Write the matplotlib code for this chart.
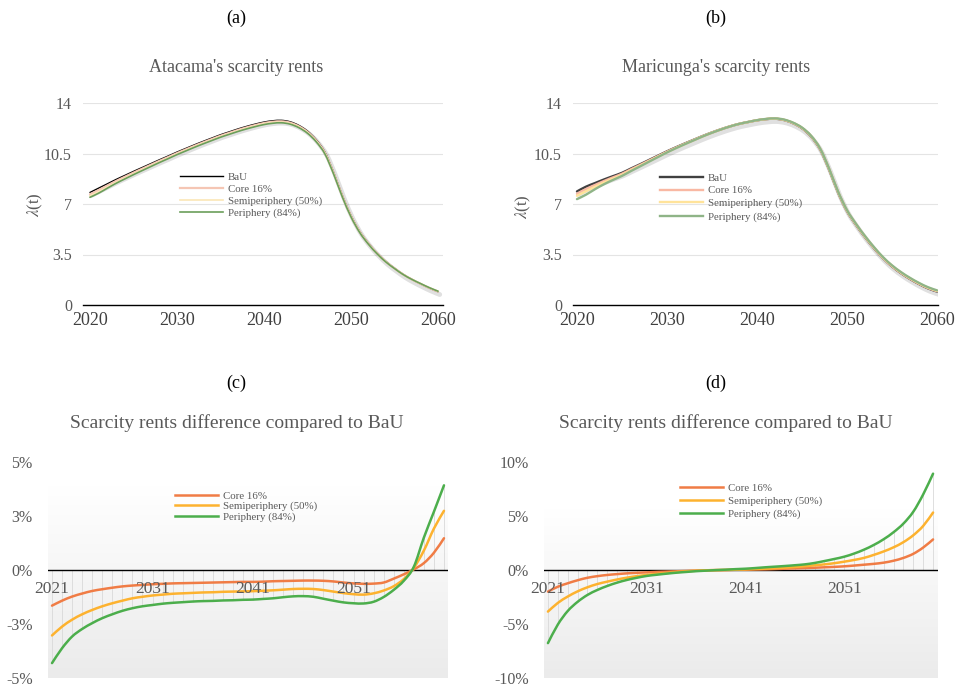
import numpy as np
import matplotlib.pyplot as plt
import matplotlib.patheffects as pe
from matplotlib.lines import Line2D
from matplotlib.path import Path
from matplotlib.patches import PathPatch
from matplotlib.colors import LinearSegmentedColormap

plt.rcParams['font.family'] = ['Liberation Serif', 'DejaVu Serif']
plt.rcParams['mathtext.fontset'] = 'stix'

# --- datos ---
years_top = list(range(2020, 2061))
years_diff = list(range(2021, 2061))

bau_atacama = [7.80, 8.10, 8.40, 8.70, 8.98, 9.26, 9.53, 9.80, 10.07, 10.33,
               10.60, 10.85, 11.10, 11.34, 11.57, 11.80, 12.00, 12.20, 12.38, 12.54,
               12.68, 12.77, 12.80, 12.70, 12.45, 12.05, 11.45, 10.60, 9.20, 7.60,
               6.20, 5.10, 4.28, 3.60, 3.02, 2.55, 2.12, 1.77, 1.46, 1.17, 0.92]
bau_maricunga = [7.87, 8.20, 8.45, 8.70, 8.93, 9.16, 9.46, 9.75, 10.05, 10.35,
                 10.65, 10.93, 11.20, 11.46, 11.72, 11.96, 12.18, 12.38, 12.55, 12.68,
                 12.80, 12.88, 12.91, 12.82, 12.60, 12.25, 11.68, 10.80, 9.40, 7.80,
                 6.50, 5.55, 4.70, 3.93, 3.24, 2.67, 2.20, 1.80, 1.45, 1.15, 0.93]

# diferencias vs BaU (%), 2021-2060
atacama_core = [-1.65, -1.42, -1.23, -1.09, -0.97, -0.89, -0.82, -0.76, -0.72, -0.69,
                -0.66, -0.64, -0.62, -0.61, -0.60, -0.59, -0.58, -0.57, -0.56, -0.55,
                -0.55, -0.54, -0.52, -0.51, -0.50, -0.49, -0.49, -0.50, -0.53, -0.58,
                -0.62, -0.64, -0.63, -0.58, -0.40, -0.20, 0.03, 0.32, 0.80, 1.47]
atacama_semi = [-3.03, -2.62, -2.30, -2.05, -1.85, -1.68, -1.54, -1.42, -1.31, -1.24,
                -1.18, -1.14, -1.10, -1.08, -1.06, -1.04, -1.03, -1.01, -1.00, -0.99,
                -0.98, -0.96, -0.94, -0.91, -0.88, -0.87, -0.88, -0.93, -1.00, -1.07,
                -1.12, -1.14, -1.08, -0.95, -0.75, -0.42, 0.10, 0.90, 1.92, 2.74]
atacama_periph = [-4.31, -3.62, -3.08, -2.73, -2.46, -2.23, -2.05, -1.89, -1.77, -1.68,
                  -1.62, -1.56, -1.52, -1.49, -1.46, -1.44, -1.43, -1.41, -1.40, -1.38,
                  -1.37, -1.34, -1.31, -1.26, -1.22, -1.21, -1.24, -1.33, -1.42, -1.50,
                  -1.54, -1.55, -1.47, -1.25, -0.92, -0.50, 0.15, 1.50, 2.70, 3.92]

maricunga_core = [-2.00, -1.55, -1.23, -0.95, -0.72, -0.57, -0.46, -0.38, -0.31, -0.26,
                  -0.22, -0.18, -0.15, -0.12, -0.09, -0.06, -0.03, -0.01, 0.00, 0.02,
                  0.03, 0.05, 0.06, 0.09, 0.12, 0.15, 0.18, 0.21, 0.25, 0.29,
                  0.34, 0.41, 0.49, 0.57, 0.68, 0.86, 1.12, 1.50, 2.08, 2.83]
maricunga_semi = [-3.85, -3.05, -2.46, -1.98, -1.60, -1.30, -1.08, -0.88, -0.71, -0.57,
                  -0.46, -0.36, -0.28, -0.20, -0.12, -0.07, -0.03, -0.01, 0.00, 0.03,
                  0.06, 0.09, 0.12, 0.17, 0.22, 0.28, 0.35, 0.43, 0.52, 0.63,
                  0.77, 0.93, 1.12, 1.40, 1.72, 2.10, 2.58, 3.22, 4.08, 5.32]
maricunga_periph = [-6.77, -5.05, -3.80, -2.95, -2.31, -1.85, -1.48, -1.17, -0.92, -0.72,
                    -0.55, -0.44, -0.34, -0.25, -0.18, -0.11, -0.06, -0.01, 0.03, 0.08,
                    0.12, 0.18, 0.25, 0.31, 0.37, 0.44, 0.52, 0.65, 0.83, 1.02,
                    1.23, 1.52, 1.88, 2.32, 2.85, 3.50, 4.30, 5.40, 7.00, 8.92]

labels_top = ['BaU', 'Core 16%', 'Semiperiphery (50%)', 'Periphery (84%)']
labels_diff = ['Core 16%', 'Semiperiphery (50%)', 'Periphery (84%)']

W, H = 956, 687
fig = plt.figure(figsize=(W / 100, H / 100), dpi=100)


def fx(x):
    return x / W


def fy(y):
    return 1 - y / H


def rect(x0, y0, x1, y1):
    return [fx(x0), fy(y1), (x1 - x0) / W, (y1 - y0) / H]


def smooth_line(ax, x, y, color, lw, zorder, effects=None):
    # linea suavizada tipo Excel (Catmull-Rom pasando por los puntos)
    p = np.column_stack([np.asarray(x, float), np.asarray(y, float)])
    ext = np.vstack([p[0], p, p[-1]])
    verts = [p[0]]
    codes = [Path.MOVETO]
    for i in range(len(p) - 1):
        p0, p1, p2, p3 = ext[i], ext[i + 1], ext[i + 2], ext[i + 3]
        verts += [p1 + (p2 - p0) / 6, p2 - (p3 - p1) / 6, p2]
        codes += [Path.CURVE4] * 3
    patch = PathPatch(Path(verts, codes), fill=False, edgecolor=color, lw=lw,
                      zorder=zorder, capstyle='round', joinstyle='round')
    if effects:
        patch.set_path_effects(effects)
    ax.add_patch(patch)


def top_panel(r, bau, diffs, xlim, colors, lws, leg_pos, leg_sp):
    ax = fig.add_axes(r)
    bau = np.array(bau)
    series = [bau]
    for d in diffs:
        d = np.array([d[0]] + list(d)) / 100.0
        series.append(bau * (1 + d))
    for i, (s, c, lw) in enumerate(zip(series, colors, lws)):
        effects = None
        if i == 0:
            effects = [pe.SimpleLineShadow(offset=(1.2, -2.0), shadow_color='black',
                                           alpha=0.12, linewidth=3.5), pe.Normal()]
        smooth_line(ax, years_top, s, c, lw, 3 + i, effects)
    ax.set_xlim(*xlim)
    ax.set_ylim(0, 14)
    ax.set_yticks([0, 3.5, 7, 10.5, 14])
    ax.set_yticklabels(['0', '3.5', '7', '10.5', '14'])
    ax.set_xticks([2020, 2030, 2040, 2050, 2060])
    ax.grid(axis='y', color='#e4e4e4', lw=0.8)
    ax.set_axisbelow(True)
    for s in ['top', 'right', 'left']:
        ax.spines[s].set_visible(False)
    ax.spines['bottom'].set_color('black')
    ax.spines['bottom'].set_linewidth(1.0)
    ax.tick_params(axis='y', length=0, pad=8, labelsize=11.5, labelcolor='#595959')
    ax.tick_params(axis='x', length=0, pad=5, labelsize=13, labelcolor='#404040')
    handles = [Line2D([], [], color=c, lw=lw) for c, lw in zip(colors, lws)]
    ax.legend(handles, labels_top, loc='upper left',
              bbox_to_anchor=(fx(leg_pos[0]), fy(leg_pos[1])),
              bbox_transform=fig.transFigure, frameon=False, fontsize=7.8,
              labelcolor='#595959', handlelength=4.0, handletextpad=0.4,
              labelspacing=leg_sp, borderpad=0, borderaxespad=0)
    return ax


def bottom_panel(r, diffs, ylim, yticks, yticklabels, xlim, grad_top, leg_pos, leg_sp):
    ax = fig.add_axes(r)
    grad = np.linspace(0, 1, 256).reshape(-1, 1)
    cmap = LinearSegmentedColormap.from_list('bg', ['#ffffff', '#ebebeb'])
    ax.imshow(grad, aspect='auto', cmap=cmap, extent=[0, 1, 0, grad_top],
              transform=ax.transAxes, zorder=0, origin='upper')
    arr = np.array(diffs)
    idx = np.abs(arr).argmax(axis=0)
    ext = arr[idx, np.arange(arr.shape[1])]
    ax.vlines(years_diff, 0, ext, color='#d9d9d9', lw=0.6, zorder=1)
    ax.axhline(0, color='black', lw=1.0, zorder=2)
    colors = ['#f07c45', '#fdb22f', '#4cae4c']
    for d, c in zip(diffs, colors):
        smooth_line(ax, years_diff, d, c, 1.8, 3)
    ax.set_xlim(*xlim)
    ax.set_ylim(*ylim)
    ax.set_yticks(yticks)
    ax.set_yticklabels(yticklabels)
    ax.set_xticks([])
    for s in ax.spines.values():
        s.set_visible(False)
    ax.tick_params(axis='y', length=0, pad=11, labelsize=11.5, labelcolor='#595959')
    for yr in [2021, 2031, 2041, 2051]:
        ax.annotate(str(yr), (yr, 0), xytext=(0, -14), textcoords='offset points',
                    ha='center', va='center', fontsize=12.5, color='#595959', zorder=4)
    handles = [Line2D([], [], color=c, lw=1.8) for c in colors]
    ax.legend(handles, labels_diff, loc='upper left',
              bbox_to_anchor=(fx(leg_pos[0]), fy(leg_pos[1])),
              bbox_transform=fig.transFigure, frameon=False, fontsize=7.8,
              labelcolor='#595959', handlelength=4.0, handletextpad=0.4,
              labelspacing=leg_sp, borderpad=0, borderaxespad=0)
    return ax


# (a)
top_panel(rect(83, 103, 443, 305), bau_atacama,
          [atacama_core, atacama_semi, atacama_periph], (2019.2, 2060.57),
          ['#000000', '#f5c6b4', '#fbe6b6', '#6b9e5a'], [1.0, 1.6, 1.2, 1.2],
          (180, 172), 0.22)
# (b)
top_panel(rect(573, 103, 938, 305), bau_maricunga,
          [maricunga_core, maricunga_semi, maricunga_periph], (2019.56, 2060.1),
          ['#404040', '#f9b8a3', '#ffe39a', '#8fb487'], [1.7, 1.7, 1.7, 1.7],
          (660, 173), 0.3)
# (c)
bottom_panel(rect(48, 462, 448, 678),
             [atacama_core, atacama_semi, atacama_periph], (-5, 5),
             [-5, -2.5, 0, 2.5, 5], ['-5%', '-3%', '0%', '3%', '5%'],
             (2020.6, 2060.4), 0.885, (175, 491), 0.1)
# (d)
bottom_panel(rect(544, 462, 938, 678),
             [maricunga_core, maricunga_semi, maricunga_periph], (-10, 10),
             [-10, -5, 0, 5, 10], ['-10%', '-5%', '0%', '5%', '10%'],
             (2020.6, 2060.5), 0.78, (680, 483), 0.3)

# titulos
fig.text(fx(236), fy(18), '(a)', ha='center', va='center', fontsize=13, color='black')
fig.text(fx(716), fy(18), '(b)', ha='center', va='center', fontsize=13, color='black')
fig.text(fx(236), fy(68), "Atacama's scarcity rents", ha='center', va='center',
         fontsize=13, color='#595959')
fig.text(fx(716), fy(68), "Maricunga's scarcity rents", ha='center', va='center',
         fontsize=13, color='#595959')
fig.text(fx(236), fy(383), '(c)', ha='center', va='center', fontsize=13, color='black')
fig.text(fx(716), fy(383), '(d)', ha='center', va='center', fontsize=13, color='black')
fig.text(fx(237), fy(423), 'Scarcity rents difference compared to BaU', ha='center',
         va='center', fontsize=14, color='#595959')
fig.text(fx(726), fy(423), 'Scarcity rents difference compared to BaU', ha='center',
         va='center', fontsize=14, color='#595959')
fig.text(fx(35), fy(205), r'$\lambda$(t)', rotation=90, ha='center', va='center',
         fontsize=12, color='#595959')
fig.text(fx(523), fy(207), r'$\lambda$(t)', rotation=90, ha='center', va='center',
         fontsize=12, color='#595959')

fig.savefig('out.png', dpi=100)
